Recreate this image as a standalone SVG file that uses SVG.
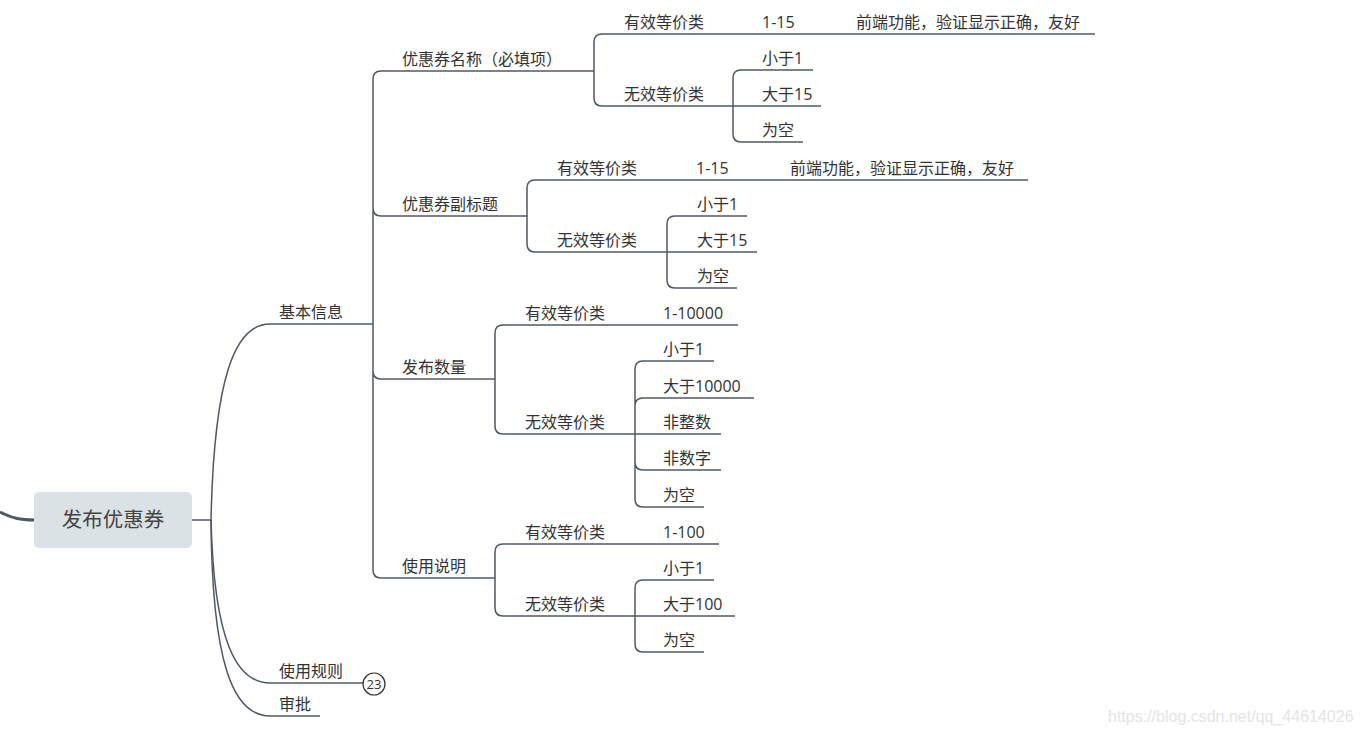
<svg xmlns="http://www.w3.org/2000/svg" width="1360" height="735" viewBox="0 0 1360 735">
<style>
.t{font-family:"Open Sans","Noto Sans CJK SC",sans-serif;font-size:16px;fill:#333}
.u{stroke:#4f5862;stroke-width:1.5;fill:none}
.c{stroke:#4f5862;stroke-width:1.5;fill:none}
.root{font-family:"Open Sans","Noto Sans CJK SC",sans-serif;font-size:20.5px;fill:#444}
.wm{font-family:"Liberation Sans",Arial,sans-serif;font-size:16px;fill:#e4e4e4}
</style>
<rect width="1360" height="735" fill="#fff"/>
<g id="connectors">
<path class="c" d="M0,512 C12,518 20,520 34,520" style="stroke-width:3"/>
<path class="c" d="M192,520 H211"/>
<path class="c" d="M211,520 C214,380 234,324 270,324"/>
<path class="c" d="M211,520 C214,640 236,683 270,683"/>
<path class="c" d="M211,520 C212,660 232,716 270,716"/>
<path class="c" d="M373,324 V79 Q373,71 381,71 M373,324 V208 Q373,216 381,216 M373,324 V371 Q373,379 381,379 M373,324 V570 Q373,578 381,578"/>
<path class="c" d="M594,71 V42 Q594,34 602,34 M594,71 V98 Q594,106 602,106"/>
<path class="c" d="M733,106 V78 Q733,70 741,70 M733,106 V134 Q733,142 741,142"/>
<path class="c" d="M527,216 V188 Q527,180 535,180 M527,216 V244 Q527,252 535,252"/>
<path class="c" d="M667,252 V224 Q667,216 675,216 M667,252 V280 Q667,288 675,288"/>
<path class="c" d="M495,379 V333 Q495,325 503,325 M495,379 V426 Q495,434 503,434"/>
<path class="c" d="M635,434 V369 Q635,361 643,361 M635,434 V406 Q635,398 643,398 M635,434 V462 Q635,470 643,470 M635,434 V499 Q635,507 643,507"/>
<path class="c" d="M495,578 V552 Q495,544 503,544 M495,578 V608 Q495,616 503,616"/>
<path class="c" d="M635,616 V588 Q635,580 643,580 M635,616 V644 Q635,652 643,652"/>
</g>
<g id="root"><rect x="34" y="492" width="158" height="56" rx="5" fill="#dbe2e5"/><text class="root" x="113" y="527" text-anchor="middle">发布优惠券</text></g>
<g id="n-jbxx"><path class="u" d="M270,324 H373"/><text class="t" x="279" y="318">基本信息</text></g>
<g id="n-syzz"><path class="u" d="M270,683 H363"/><text class="t" x="279" y="677">使用规则</text><circle cx="374" cy="684" r="11" fill="#fff" stroke="#333" stroke-width="1.2"/><text x="374" y="689" text-anchor="middle" style="font-family:'Open Sans',sans-serif;font-size:13px;fill:#333">23</text></g>
<g id="n-sp"><path class="u" d="M270,716 H320"/><text class="t" x="279" y="710">审批</text></g>

<g id="n-mc"><path class="u" d="M381,71 H594"/><text class="t" x="402" y="65">优惠券名称（必填项）</text></g>
<g id="n-mc-yx"><path class="u" d="M602,34 H740"/><text class="t" x="624" y="28">有效等价类</text></g>
<g id="n-mc-yx-v"><path class="u" d="M740,34 H836"/><text class="t" x="762" y="28">1-15</text></g>
<g id="n-mc-yx-d"><path class="u" d="M836,34 H1095"/><text class="t" x="856" y="28">前端功能，验证显示正确，友好</text></g>
<g id="n-mc-wx"><path class="u" d="M602,106 H733"/><text class="t" x="624" y="100">无效等价类</text></g>
<g id="n-mc-wx-1"><path class="u" d="M741,70 H813"/><text class="t" x="762" y="64">小于1</text></g>
<g id="n-mc-wx-2"><path class="u" d="M733,106 H821"/><text class="t" x="762" y="100">大于15</text></g>
<g id="n-mc-wx-3"><path class="u" d="M741,142 H803"/><text class="t" x="762" y="136">为空</text></g>

<g id="n-fbt"><path class="u" d="M381,216 H527"/><text class="t" x="402" y="210">优惠券副标题</text></g>
<g id="n-fbt-yx"><path class="u" d="M535,180 H676"/><text class="t" x="557" y="174">有效等价类</text></g>
<g id="n-fbt-yx-v"><path class="u" d="M676,180 H770"/><text class="t" x="696" y="174">1-15</text></g>
<g id="n-fbt-yx-d"><path class="u" d="M770,180 H1028"/><text class="t" x="790" y="174">前端功能，验证显示正确，友好</text></g>
<g id="n-fbt-wx"><path class="u" d="M535,252 H667"/><text class="t" x="557" y="246">无效等价类</text></g>
<g id="n-fbt-wx-1"><path class="u" d="M675,216 H747"/><text class="t" x="697" y="210">小于1</text></g>
<g id="n-fbt-wx-2"><path class="u" d="M667,252 H757"/><text class="t" x="697" y="246">大于15</text></g>
<g id="n-fbt-wx-3"><path class="u" d="M675,288 H737"/><text class="t" x="697" y="282">为空</text></g>

<g id="n-sl"><path class="u" d="M381,379 H495"/><text class="t" x="402" y="373">发布数量</text></g>
<g id="n-sl-yx"><path class="u" d="M503,325 H643"/><text class="t" x="525" y="319">有效等价类</text></g>
<g id="n-sl-yx-v"><path class="u" d="M643,325 H738"/><text class="t" x="663" y="319">1-10000</text></g>
<g id="n-sl-wx"><path class="u" d="M503,434 H635"/><text class="t" x="525" y="428">无效等价类</text></g>
<g id="n-sl-wx-1"><path class="u" d="M643,361 H714"/><text class="t" x="663" y="355">小于1</text></g>
<g id="n-sl-wx-2"><path class="u" d="M643,398 H754"/><text class="t" x="663" y="392">大于10000</text></g>
<g id="n-sl-wx-3"><path class="u" d="M635,434 H721"/><text class="t" x="663" y="428">非整数</text></g>
<g id="n-sl-wx-4"><path class="u" d="M643,470 H721"/><text class="t" x="663" y="464">非数字</text></g>
<g id="n-sl-wx-5"><path class="u" d="M643,507 H704"/><text class="t" x="663" y="501">为空</text></g>

<g id="n-sm"><path class="u" d="M381,578 H495"/><text class="t" x="402" y="572">使用说明</text></g>
<g id="n-sm-yx"><path class="u" d="M503,544 H643"/><text class="t" x="525" y="538">有效等价类</text></g>
<g id="n-sm-yx-v"><path class="u" d="M643,544 H719"/><text class="t" x="663" y="538">1-100</text></g>
<g id="n-sm-wx"><path class="u" d="M503,616 H635"/><text class="t" x="525" y="610">无效等价类</text></g>
<g id="n-sm-wx-1"><path class="u" d="M643,580 H714"/><text class="t" x="663" y="574">小于1</text></g>
<g id="n-sm-wx-2"><path class="u" d="M635,616 H735"/><text class="t" x="663" y="610">大于100</text></g>
<g id="n-sm-wx-3"><path class="u" d="M643,652 H704"/><text class="t" x="663" y="646">为空</text></g>

<text class="wm" x="1108" y="722">https://blog.csdn.net/qq_44614026</text>
</svg>
